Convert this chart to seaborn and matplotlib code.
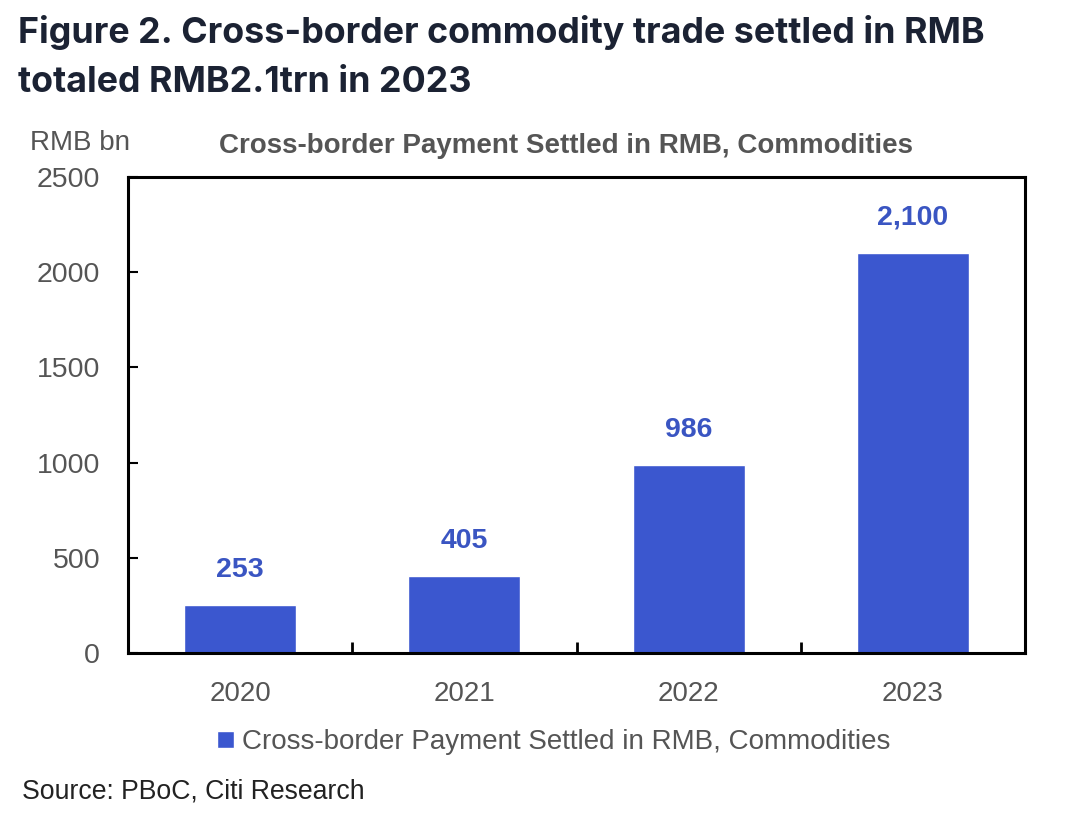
import matplotlib
matplotlib.use("Agg")
import matplotlib.pyplot as plt
import seaborn as sns
import pandas as pd

years = ["2020", "2021", "2022", "2023"]
values = [253, 405, 986, 2100]
value_labels = ["253", "405", "986", "2,100"]
y_ticks = [0, 500, 1000, 1500, 2000, 2500]
series_name = "Cross-border Payment Settled in RMB, Commodities"

sns.set_theme(style="white")
plt.rcParams['font.family'] = ["Liberation Sans", 'DejaVu Sans']

BAR = "#3b57cf"
LAB = "#3a55c2"
GRAY = "#555555"
NAVY = "#1b2233"

df = pd.DataFrame({"year": years, "value": values})

fig = plt.figure(figsize=(10.8, 8.16), dpi=100)
ax = fig.add_axes([128/1080, 1-653/816, (1025-128)/1080, (653-177)/816])
sns.barplot(data=df, x="year", y="value", color=BAR, width=0.5, ax=ax,
            saturation=1, label=series_name)

ax.set_ylim(0, 2500)
ax.set_xlim(-0.5, 3.5)
ax.set_yticks(y_ticks)
ax.set_xlabel("")
ax.set_ylabel("")
for s in ax.spines.values():
    s.set_visible(True)
    s.set_color("black")
    s.set_linewidth(2.2)
ax.tick_params(axis="y", direction="in", length=7, width=1.5, colors="black",
               labelcolor=GRAY, labelsize=20.5, pad=20, left=True)
ax.tick_params(axis="x", length=0, labelcolor=GRAY, labelsize=20, pad=20)
# category separator ticks
ax.set_xticks([0.5, 1.5, 2.5], minor=True)
ax.tick_params(axis="x", which="minor", direction="in", length=8, width=2, colors="black", bottom=True)

for cont in ax.containers:
    ax.bar_label(cont, labels=value_labels, padding=16, color=LAB, fontsize=20.5,
                 fontweight="bold")

ax.set_title("Cross-border Payment Settled in RMB, Commodities", fontsize=20,
             fontweight="bold", color=GRAY, pad=17, x=0.488)
fig.text(30/1080, 1-143/816, "RMB bn", fontsize=20, color=GRAY, va="center", ha="left")

leg = ax.legend(loc="upper center", bbox_to_anchor=(0.475, -0.108), frameon=False,
                fontsize=20, handlelength=0.6, handleheight=0.6, handletextpad=0.3,
                labelcolor=GRAY)

fig.text(18/1080, 1-33/816, "Figure 2. Cross-border commodity trade settled in RMB",
         fontsize=25.8, fontweight="bold", color=NAVY, family=["Inter", "DejaVu Sans"],
         va="center", ha="left")
fig.text(18/1080, 1-83/816, "totaled RMB2.1trn in 2023",
         fontsize=25.8, fontweight="bold", color=NAVY, family=["Inter", "DejaVu Sans"],
         va="center", ha="left")
fig.text(22/1080, 1-792/816, "Source: PBoC, Citi Research", fontsize=19.2, color="#222222",
         va="center", ha="left")

fig.savefig("out.png", dpi=100, facecolor="white")
